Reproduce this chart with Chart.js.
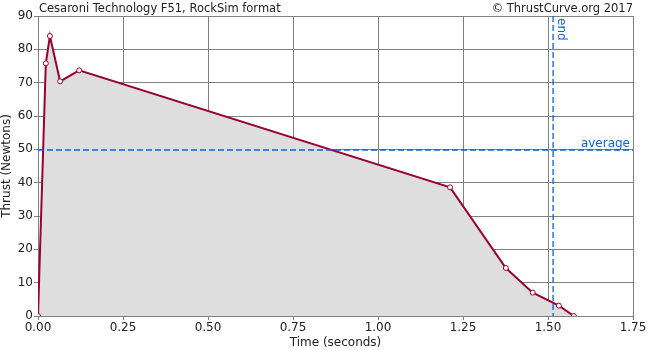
<!DOCTYPE html>
<html>
<head>
<meta charset="utf-8">
<script src="https://cdn.jsdelivr.net/npm/chart.js@4.4.0/dist/chart.umd.min.js"></script>
<style>
  html, body { margin: 0; padding: 0; background: #fff; }
  #wrap { width: 650px; height: 350px; }
</style>
</head>
<body>
<div id="wrap"><canvas id="chart" width="650" height="350"></canvas></div>
<script>
// thrust curve
const times = [0, 0.023, 0.035, 0.065, 0.121, 1.212, 1.376, 1.455, 1.532, 1.576];
const thrust = [0, 75.8, 84.0, 70.4, 73.7, 38.6, 14.4, 7.0, 3.1, 0];
const averageThrust = 49.8;
const burnEnd = 1.515;
const titleText = "Cesaroni Technology F51, RockSim format";
const creditText = "\u00a9 ThrustCurve.org 2017";

const FONT = "'DejaVu Sans', Verdana, sans-serif";
const GRID = "#808080";
const BLUE = "#0a64d2";

const points = times.map((t, i) => ({ x: t, y: thrust[i] }));

// average / end lines and header texts
const extras = {
  id: "extras",
  afterDatasetsDraw(chart) {
    const { ctx, chartArea, scales } = chart;
    const yAvg = scales.y.getPixelForValue(averageThrust);
    const xEnd = scales.x.getPixelForValue(burnEnd);
    ctx.save();
    ctx.strokeStyle = BLUE;
    ctx.lineWidth = 1.3;
    ctx.setLineDash([6, 3]);
    ctx.beginPath();
    ctx.moveTo(chartArea.left, yAvg);
    ctx.lineTo(chartArea.right, yAvg);
    ctx.stroke();
    ctx.beginPath();
    ctx.moveTo(xEnd, chartArea.top);
    ctx.lineTo(xEnd, chartArea.bottom);
    ctx.stroke();
    ctx.setLineDash([]);

    ctx.fillStyle = BLUE;
    ctx.font = "12px " + FONT;
    ctx.textAlign = "right";
    ctx.textBaseline = "alphabetic";
    ctx.fillText("average", chartArea.right - 3, yAvg - 3);

    ctx.translate(xEnd + 2, chartArea.top + 2);
    ctx.rotate(Math.PI / 2);
    ctx.textAlign = "left";
    ctx.textBaseline = "bottom";
    ctx.fillText("end", 0, 0);
    ctx.restore();

    ctx.save();
    ctx.fillStyle = "#222";
    ctx.font = "11.5px " + FONT;
    ctx.textBaseline = "alphabetic";
    ctx.textAlign = "left";
    ctx.fillText(titleText, chartArea.left + 1, 12);
    ctx.textAlign = "right";
    ctx.fillText(creditText, chartArea.right, 12);
    ctx.restore();
  }
};

new Chart(document.getElementById("chart"), {
  type: "line",
  data: {
    datasets: [{
      data: points,
      borderColor: "#990033",
      borderWidth: 2,
      backgroundColor: "#dedede",
      fill: "origin",
      tension: 0,
      pointRadius: 2.5,
      pointBorderWidth: 1,
      pointBackgroundColor: "#fff",
      pointBorderColor: "#990033"
    }]
  },
  options: {
    responsive: false,
    animation: false,
    layout: { padding: { left: 0, right: 17, top: 16, bottom: 0 } },
    plugins: { legend: { display: false }, tooltip: { enabled: false } },
    scales: {
      x: {
        type: "linear",
        min: 0,
        max: 1.75,
        ticks: {
          stepSize: 0.25,
          color: "#222",
          font: { family: FONT, size: 12 },
          padding: 1,
          maxRotation: 0,
          callback: v => v.toFixed(2)
        },
        grid: { color: GRID, lineWidth: 1, tickLength: 4 },
        border: { color: GRID },
        title: {
          display: true,
          text: "Time (seconds)",
          color: "#222",
          font: { family: FONT, size: 12 },
          padding: { top: 0, bottom: 0 }
        },
        afterFit(scale) { scale.height = 34; }
      },
      y: {
        min: 0,
        max: 90,
        ticks: {
          stepSize: 10,
          color: "#222",
          font: { family: FONT, size: 12 },
          padding: 1
        },
        grid: { color: GRID, lineWidth: 1, tickLength: 4 },
        border: { color: GRID },
        title: {
          display: true,
          text: "Thrust (Newtons)",
          color: "#222",
          font: { family: FONT, size: 12 },
          padding: { top: 0, bottom: 0 }
        },
        afterFit(scale) { scale.width = 38; }
      }
    }
  },
  plugins: [extras]
});
</script>
</body>
</html>
